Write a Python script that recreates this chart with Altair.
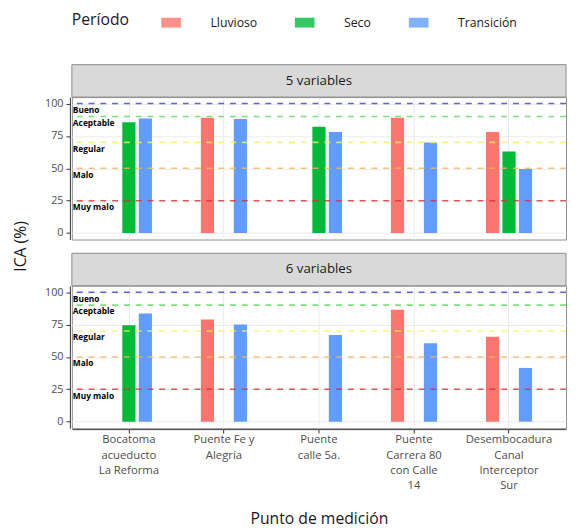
import altair as alt
import pandas as pd

# ---- data ----
puntos = [
    "Bocatoma\nacueducto\nLa Reforma",
    "Puente Fe y\nAlegría",
    "Puente\ncalle 5a.",
    "Puente\nCarrera 80\ncon Calle\n14",
    "Desembocadura\nCanal\nInterceptor\nSur",
]
periodos = ["Lluvioso", "Seco", "Transición"]
colores_periodo = ["#F8766D", "#00BA38", "#619CFF"]
paneles = ["5 variables", "6 variables"]

ica_5_lluvioso = [None, 89.0, None, 89.0, 78.0]
ica_5_seco = [85.5, None, 82.0, None, 63.0]
ica_5_transicion = [88.5, 88.0, 78.0, 70.0, 49.5]

ica_6_lluvioso = [None, 79.0, None, 86.5, 65.5]
ica_6_seco = [74.5, None, None, None, None]
ica_6_transicion = [83.5, 75.0, 67.0, 60.5, 41.5]

umbrales = [100, 90, 70, 50, 25]
umbral_etiquetas = ["Bueno", "Aceptable", "Regular", "Malo", "Muy malo"]
umbral_colores = ["#3B3BD9", "#55DD55", "#F2F25A", "#F5B55A", "#DD2E2E"]

# ---- table ----
series = {
    "5 variables": [ica_5_lluvioso, ica_5_seco, ica_5_transicion],
    "6 variables": [ica_6_lluvioso, ica_6_seco, ica_6_transicion],
}
rows = []
for panel in paneles:
    for periodo, vals in zip(periodos, series[panel]):
        for punto, v in zip(puntos, vals):
            if v is not None:
                rows.append(dict(kind="bar", panel=panel, punto=punto, periodo=periodo, ica=v))
    for u, lab, col in zip(umbrales, umbral_etiquetas, umbral_colores):
        rows.append(dict(kind="ref", panel=panel, ica=u, label=lab, col=col))
    rows.append(dict(kind="strip", panel=panel))
df = pd.DataFrame(rows)

W, H = 503, 145
STRIP = 33
FONT = "Open Sans"

yscale = alt.Scale(domain=[-5, 105], nice=False, zero=False)
yaxis = alt.Axis(
    title=None, values=[0, 25, 50, 75, 100], labelColor="#4D4D4D", labelFontSize=11,
    tickColor="#333333", tickSize=4, labelPadding=3, domainColor="#333333",
    gridColor="#EBEBEB",
)
xaxis = alt.Axis(
    title="Punto de medición", labelExpr="split(datum.label, '\\n')", labelAngle=0,
    labelColor="#4D4D4D", labelFontSize=11.5, labelLineHeight=15.5, labelPadding=1,
    tickColor="#333333", tickSize=4, domainColor="#333333", grid=True, gridColor="#EBEBEB",
    bandPosition=0.5, titleFontSize=16, titleFontWeight="normal", titleColor="#1A1A1A",
    titlePadding=20, labelLimit=200,
)

bars = alt.Chart().mark_bar().transform_filter("datum.kind == 'bar'").encode(
    x=alt.X("punto:N", sort=puntos,
            scale=alt.Scale(domain=puntos, paddingInner=0.48, paddingOuter=0.34), axis=xaxis),
    xOffset=alt.XOffset("periodo:N", scale=alt.Scale(domain=periodos, paddingInner=0.2, paddingOuter=0.1)),
    y=alt.Y("ica:Q", scale=yscale, axis=yaxis),
    color=alt.Color(
        "periodo:N", scale=alt.Scale(domain=periodos, range=colores_periodo),
        legend=alt.Legend(
            title="Período", orient="top", direction="horizontal", titleOrient="left",
            titleFontSize=16, titleFontWeight="normal", titleColor="#1A1A1A", titlePadding=32,
            labelFontSize=12.5, labelColor="#1A1A1A", labelOffset=30, columnPadding=38,
            symbolType="M-1,-0.5L1,-0.5L1,0.5L-1,0.5Z", symbolSize=400, symbolStrokeWidth=0,
            symbolOpacity=1, offset=35,
        ),
    ),
)

rules = alt.Chart().mark_rule(strokeDash=[6, 6], strokeWidth=1.6, opacity=0.8).transform_filter(
    "datum.kind == 'ref'"
).encode(
    y=alt.Y("ica:Q", scale=yscale, axis=yaxis),
    color=alt.Color("col:N", scale=None),
)

labels = alt.Chart().mark_text(
    align="left", baseline="middle", dx=1, dy=6.5, fontSize=8.5, fontWeight="bold", color="black", font=FONT
).transform_filter("datum.kind == 'ref'").encode(
    x=alt.value(0),
    y=alt.Y("ica:Q", scale=yscale, axis=yaxis),
    text="label:N",
)

strip = alt.Chart().mark_rect(fill="#D9D9D9", stroke="#8C8C8C", strokeWidth=1).transform_filter(
    "datum.kind == 'strip'"
).encode(x=alt.value(0), x2=alt.value(W), y=alt.value(-STRIP), y2=alt.value(0))

strip_text = alt.Chart().mark_text(fontSize=13.5, color="#1A1A1A", font=FONT).transform_filter(
    "datum.kind == 'strip'"
).encode(x=alt.value(W / 2), y=alt.value(-STRIP / 2), text="panel:N")

layered = alt.layer(bars, rules, labels, strip, strip_text).properties(width=W, height=H)

chart = layered.facet(
    row=alt.Row(
        "panel:N", sort=paneles,
        header=alt.Header(labels=False, title="ICA (%)", titleFontSize=16, titleFontWeight="normal",
                          titleColor="#1A1A1A", titlePadding=6),
    ),
    data=df,
    spacing=12,
).properties(
    padding={"left": 5, "top": 0, "right": 0, "bottom": 0},
).configure(font=FONT).configure_view(stroke="#8C8C8C", strokeWidth=1)

chart.save("out.html", embed_options={"renderer": "svg", "actions": False})
